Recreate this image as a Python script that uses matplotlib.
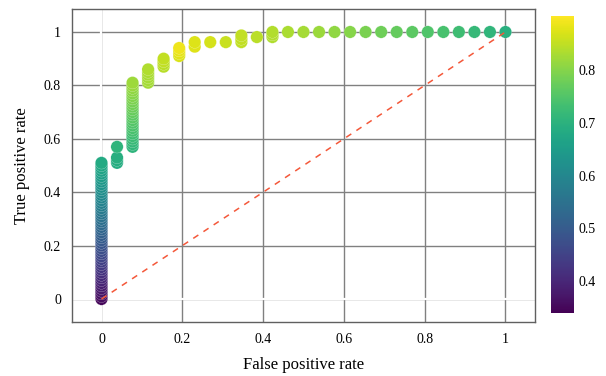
import matplotlib
matplotlib.use("Agg")
import matplotlib.pyplot as plt
from matplotlib.ticker import FuncFormatter

# false positive rate of each column of points (steps of 1/26)
fpr_cols = [0.0, 0.0385, 0.0769, 0.1154, 0.1538, 0.1923, 0.2308, 0.2692,
            0.3077, 0.3462, 0.3846, 0.4231, 0.4615, 0.5, 0.5385, 0.5769,
            0.6154, 0.6538, 0.6923, 0.7308, 0.7692, 0.8077, 0.8462, 0.8846,
            0.9231, 0.9615, 1.0]

# true positive rates per column
tpr_cols = [
    [0.00, 0.01, 0.02, 0.03, 0.04, 0.05, 0.06, 0.07, 0.08, 0.09, 0.10,
     0.11, 0.12, 0.13, 0.14, 0.15, 0.16, 0.17, 0.18, 0.19, 0.20, 0.21,
     0.22, 0.23, 0.24, 0.25, 0.26, 0.27, 0.28, 0.29, 0.30, 0.31, 0.32,
     0.33, 0.34, 0.35, 0.36, 0.37, 0.38, 0.39, 0.40, 0.41, 0.42, 0.43,
     0.44, 0.45, 0.46, 0.47, 0.48, 0.49, 0.50, 0.51],
    [0.51, 0.52, 0.53, 0.57],
    [0.57, 0.58, 0.59, 0.60, 0.61, 0.62, 0.63, 0.64, 0.65, 0.66, 0.67,
     0.68, 0.69, 0.70, 0.71, 0.72, 0.73, 0.74, 0.75, 0.76, 0.77, 0.78,
     0.79, 0.80, 0.81],
    [0.81, 0.82, 0.83, 0.84, 0.85, 0.86],
    [0.87, 0.88, 0.89, 0.90],
    [0.91, 0.92, 0.93, 0.94],
    [0.945, 0.962],
    [0.962],
    [0.962],
    [0.962, 0.974, 0.987],
    [0.981],
    [0.981, 0.99, 1.0],
    [1.0], [1.0], [1.0], [1.0], [1.0], [1.0], [1.0], [1.0],
    [1.0], [1.0], [1.0], [1.0], [1.0], [1.0], [1.0],
]

# classification threshold of each point (colour)
thr_cols = [
    [0.350, 0.357, 0.363, 0.370, 0.376, 0.383, 0.389, 0.396, 0.402, 0.409,
     0.415, 0.422, 0.428, 0.435, 0.441, 0.448, 0.454, 0.461, 0.467, 0.474,
     0.480, 0.487, 0.493, 0.500, 0.506, 0.513, 0.519, 0.526, 0.532, 0.539,
     0.545, 0.552, 0.558, 0.565, 0.571, 0.578, 0.584, 0.591, 0.597, 0.604,
     0.610, 0.617, 0.623, 0.630, 0.636, 0.643, 0.649, 0.656, 0.662, 0.669,
     0.675, 0.682],
    [0.685, 0.688, 0.692, 0.705],
    [0.705, 0.710, 0.715, 0.719, 0.724, 0.729, 0.734, 0.739, 0.743, 0.748,
     0.753, 0.758, 0.762, 0.767, 0.772, 0.777, 0.782, 0.786, 0.791, 0.796,
     0.801, 0.806, 0.810, 0.815, 0.820],
    [0.824, 0.826, 0.828, 0.830, 0.832, 0.835],
    [0.842, 0.845, 0.848, 0.851],
    [0.872, 0.877, 0.882, 0.888],
    [0.876, 0.874],
    [0.866],
    [0.856],
    [0.850, 0.851, 0.852],
    [0.845],
    [0.836, 0.837, 0.838],
    [0.832], [0.826], [0.818], [0.810], [0.801], [0.790], [0.779], [0.770],
    [0.762], [0.748], [0.739], [0.728], [0.717], [0.708], [0.697],
]

fpr, tpr, thr = [], [], []
for x, ys, cs in zip(fpr_cols, tpr_cols, thr_cols):
    fpr += [x] * len(ys)
    tpr += ys
    thr += cs

plt.rcParams["font.family"] = ["Liberation Serif", "DejaVu Serif"]

fig = plt.figure(figsize=(6.06, 3.76), dpi=100)
ax = fig.add_axes([0.1188, 0.1436, 0.764, 0.8324])
cax = fig.add_axes([0.909, 0.1668, 0.038, 0.7915])

ax.set_axisbelow(True)
ax.grid(True, color="#808080", linewidth=1.0)
ax.axvline(0, color="white", linewidth=1.6, zorder=1)
ax.axhline(0, color="white", linewidth=1.6, zorder=1)

sc = ax.scatter(fpr, tpr, c=thr, cmap="viridis", vmin=0.339, vmax=0.903,
                s=80, edgecolors="white", linewidths=0.15, zorder=2)
ax.plot([0, 1], [0, 1], color="#f4583a", linewidth=1.1,
        linestyle=(0, (4, 4)), zorder=3)

ax.set_xlim(-0.073, 1.073)
ax.set_ylim(-0.086, 1.086)
ax.set_xticks([0, 0.2, 0.4, 0.6, 0.8, 1])
ax.set_yticks([0, 0.2, 0.4, 0.6, 0.8, 1])
fmt = FuncFormatter(lambda v, p: "%g" % round(v, 2))
ax.xaxis.set_major_formatter(fmt)
ax.yaxis.set_major_formatter(fmt)
ax.tick_params(length=0, labelsize=10, pad=8, colors="black")
for s in ax.spines.values():
    s.set_color("#606060")
    s.set_linewidth(1.0)

ax.set_xlabel("False positive rate", fontsize=12, labelpad=8)
ax.set_ylabel("True positive rate", fontsize=12, labelpad=10)

cb = fig.colorbar(sc, cax=cax)
cb.outline.set_visible(False)
cb.set_ticks([0.4, 0.5, 0.6, 0.7, 0.8])
cb.ax.yaxis.set_major_formatter(fmt)
cb.ax.tick_params(length=0, labelsize=10, pad=3)

fig.savefig("out.png", dpi=100)
